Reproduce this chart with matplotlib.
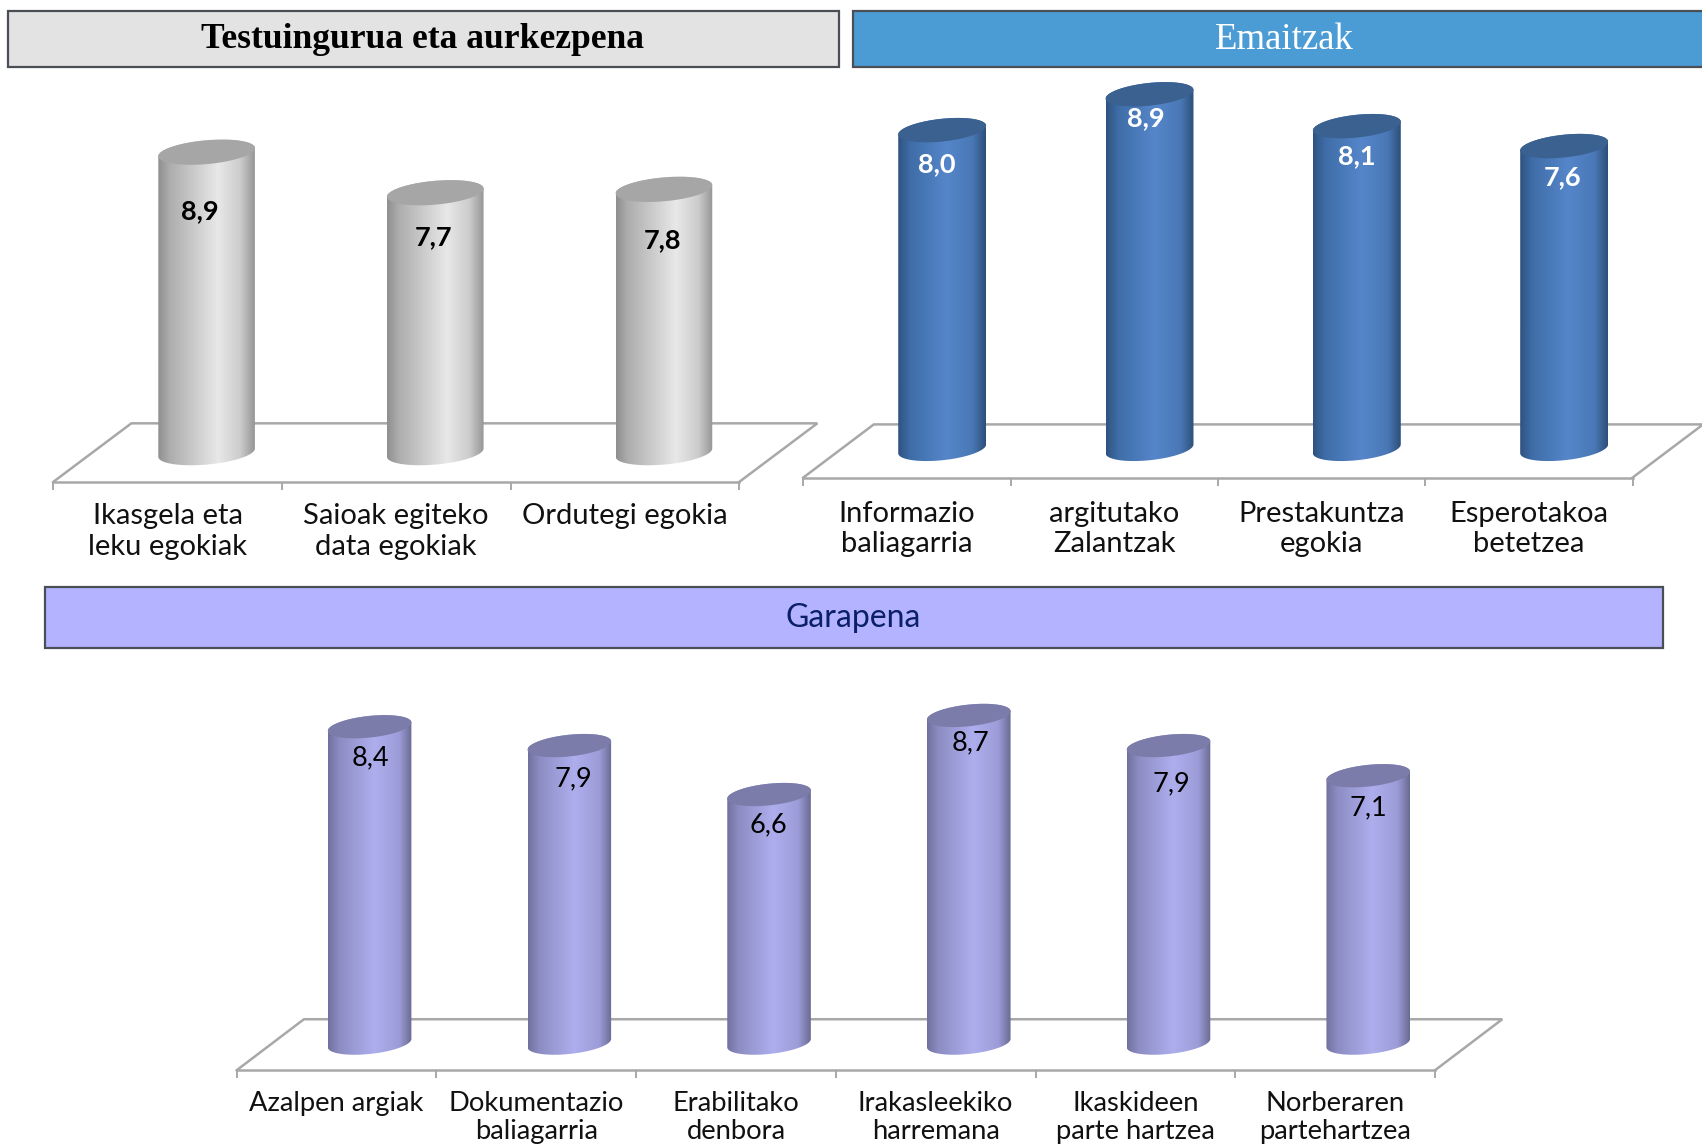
import numpy as np
import matplotlib
matplotlib.use("Agg")
import matplotlib.pyplot as plt
from matplotlib.patches import PathPatch, Rectangle
from matplotlib.path import Path
from matplotlib.colors import to_rgb

# ---- data ----
cats_context = ["Ikasgela eta\nleku egokiak", "Saioak egiteko\ndata egokiak", "Ordutegi egokia"]
vals_context = [8.9, 7.7, 7.8]
cats_results = ["Informazio\nbaliagarria", "argitutako\nZalantzak", "Prestakuntza\negokia", "Esperotakoa\nbetetzea"]
vals_results = [8.0, 8.9, 8.1, 7.6]
cats_dev = ["Azalpen argiak", "Dokumentazio\nbaliagarria", "Erabilitako\ndenbora",
            "Irakasleekiko\nharremana", "Ikaskideen\nparte hartzea", "Norberaren\npartehartzea"]
vals_dev = [8.4, 7.9, 6.6, 8.7, 7.9, 7.1]

W, H = 1702, 1145
S = W / 1568.0
fig = plt.figure(figsize=(W / 100, H / 100), dpi=100, facecolor="white")
LABEL_FONT = ["Lato", "DejaVu Sans"]
SERIF_FONT = ["Liberation Serif", "DejaVu Serif"]


def fx(x):
    return x * S / W


def fy(y):
    return 1 - y * S / H


def header(x0, x1, y0, y1, fc, text, tx, color, fam, size, weight="normal"):
    fig.add_artist(Rectangle((fx(x0), fy(y1)), fx(x1) - fx(x0), fy(y0) - fy(y1),
                             transform=fig.transFigure, fc=fc, ec="#4a4f55", lw=1.6))
    fig.text(fx(tx), fy((y0 + y1) / 2 + 0.5), text, ha="center", va="center", color=color,
             family=fam, fontsize=size, weight=weight)


def panel(cats, vals, front_x, front_y, back_dx, back_dy, base_y, px_unit, bar_dx, bar_w,
          ell_b, tilt, stops, top_color, label_nudges, val_style, tick_size, pad, spacing):
    """All geometry in reference-display pixels; data drawn through the axes' own scale."""
    n = len(cats)
    ymax = 10.6
    ylow = -(front_y - base_y) / px_unit
    top_px = base_y - ymax * px_unit
    ax = fig.add_axes([fx(front_x[0]), fy(front_y), fx(front_x[1]) - fx(front_x[0]),
                       fy(top_px) - fy(front_y)])
    ax.patch.set_alpha(0)
    ax.set_xlim(-0.5, n - 0.5)
    ax.set_ylim(ylow, ymax)
    slot = (front_x[1] - front_x[0]) / n
    for s in ("left", "right", "top"):
        ax.spines[s].set_visible(False)
    ax.spines["bottom"].set_color("#a8a8a8")
    ax.spines["bottom"].set_linewidth(1.8)
    ax.yaxis.set_visible(False)
    ax.set_xticks(np.arange(n + 1) - 0.5)
    ax.set_xticklabels([])
    ax.tick_params(axis="x", which="major", length=6, width=1.4, color="#a8a8a8")
    ax.set_xticks(np.arange(n), minor=True)
    ax.set_xticklabels(cats, minor=True, family=LABEL_FONT, fontsize=tick_size,
                       color="#111111", linespacing=spacing)
    ax.tick_params(axis="x", which="minor", length=0, pad=pad)

    # floor outline
    dxd = back_dx / slot
    dyd = back_dy / px_unit
    ax.plot([-0.5, -0.5 + dxd, n - 0.5 + dxd, n - 0.5], [ylow, ylow + dyd, ylow + dyd, ylow],
            color="#a8a8a8", lw=1.8, clip_on=False, zorder=1, solid_joinstyle="miter")

    # cylinders
    a = bar_w / 2 / slot
    b = ell_b / px_unit
    shear = tilt * bar_w / 2 / px_unit
    grad = np.array([to_rgb(c) for _, c in stops])
    pos = [p for p, _ in stops]
    u = np.linspace(0, 1, 256)
    img = np.stack([np.interp(u, pos, grad[:, k]) for k in range(3)], axis=-1)[None, :, :]
    t_low = np.linspace(np.pi, 2 * np.pi, 50)
    t_all = np.linspace(0, 2 * np.pi, 100)
    for i, v in enumerate(vals):
        cx = i + bar_dx / slot
        xs = cx + a * np.cos(t_low)
        ybot = shear * np.cos(t_low) + b * np.sin(t_low)
        xt = cx + a * np.cos(t_all[:50])
        ytop = v + shear * np.cos(t_all[:50]) + b * np.sin(t_all[:50])
        verts = np.column_stack([np.r_[xs, xt], np.r_[ybot, ytop]])
        verts = np.vstack([verts, verts[0]])
        body = PathPatch(Path(verts, closed=True), transform=ax.transData, fc="none", ec="none")
        ax.add_patch(body)
        im = ax.imshow(img, extent=[cx - a, cx + a, ylow, ymax], aspect="auto", zorder=2,
                       interpolation="bilinear")
        im.set_clip_path(body)
        ex = cx + a * np.cos(t_all)
        ey = v + shear * np.cos(t_all) + b * np.sin(t_all)
        ax.fill(ex, ey, color=top_color, zorder=3, lw=0)
        lab = f"{v:.1f}".replace(".", ",")
        ax.annotate(lab, xy=(cx, v), xytext=(label_nudges[i][0] * S, -label_nudges[i][1] * S),
                    textcoords="offset pixels", ha="center", va="center", zorder=4, **val_style)
    ax.set_xlim(-0.5, n - 0.5)
    ax.set_ylim(ylow, ymax)
    return ax


# ---- headers ----
header(7, 773, 10, 62, "#e3e3e3", "Testuingurua eta aurkezpena", 389, "#000000", SERIF_FONT, 25.6, "bold")
header(786, 1600, 10, 62, "#4b9bd5", "Emaitzak", 1183, "#ffffff", SERIF_FONT, 26.5)
header(41, 1532, 541, 597, "#b3b3ff", "Garapena", 786, "#0b1f66", LABEL_FONT, 23)

# ---- panels ----
panel(cats_context, vals_context, (49, 681), 444, 72, 54, 417, 31.1, 36, 89, 11, 0.085,
      [(0, "#8f8f8f"), (0.12, "#adadad"), (0.62, "#e8e8e8"), (0.85, "#cccccc"), (1, "#969696")],
      "#a6a6a6", [(-6, 54), (-2, 41), (-1, 47)],
      dict(family=LABEL_FONT, fontsize=19.5, weight="bold", color="#000000"), 21, 15, 1.24)

panel(cats_results, vals_results, (740, 1504), 440, 65, 49, 413.5, 36.7, 32.5, 81, 10.5, 0.1,
      [(0, "#2f5380"), (0.14, "#3f6da8"), (0.55, "#5586ca"), (0.85, "#4a78b6"), (1, "#2d4f7a")],
      "#3a6190", [(-5, 31), (-3, 22), (0, 28), (-1, 29)],
      dict(family=LABEL_FONT, fontsize=19.5, weight="bold", color="#ffffff"), 21, 17, 1.2)

panel(cats_dev, vals_dev, (218, 1322), 986, 62, 47, 961, 34.7, 30.5, 77, 10, 0.1,
      [(0, "#71719f"), (0.14, "#8d8dc4"), (0.55, "#aeaeee"), (0.85, "#9c9cd8"), (1, "#6a6a94")],
      "#7c7caa", [(1, 29), (4, 31), (-1, 28), (2, 25), (3, 35), (0, 30)],
      dict(family=LABEL_FONT, fontsize=19.5, color="#000000"), 19.7, 15, 1.16)

fig.savefig("out.png", dpi=100, facecolor="white")
